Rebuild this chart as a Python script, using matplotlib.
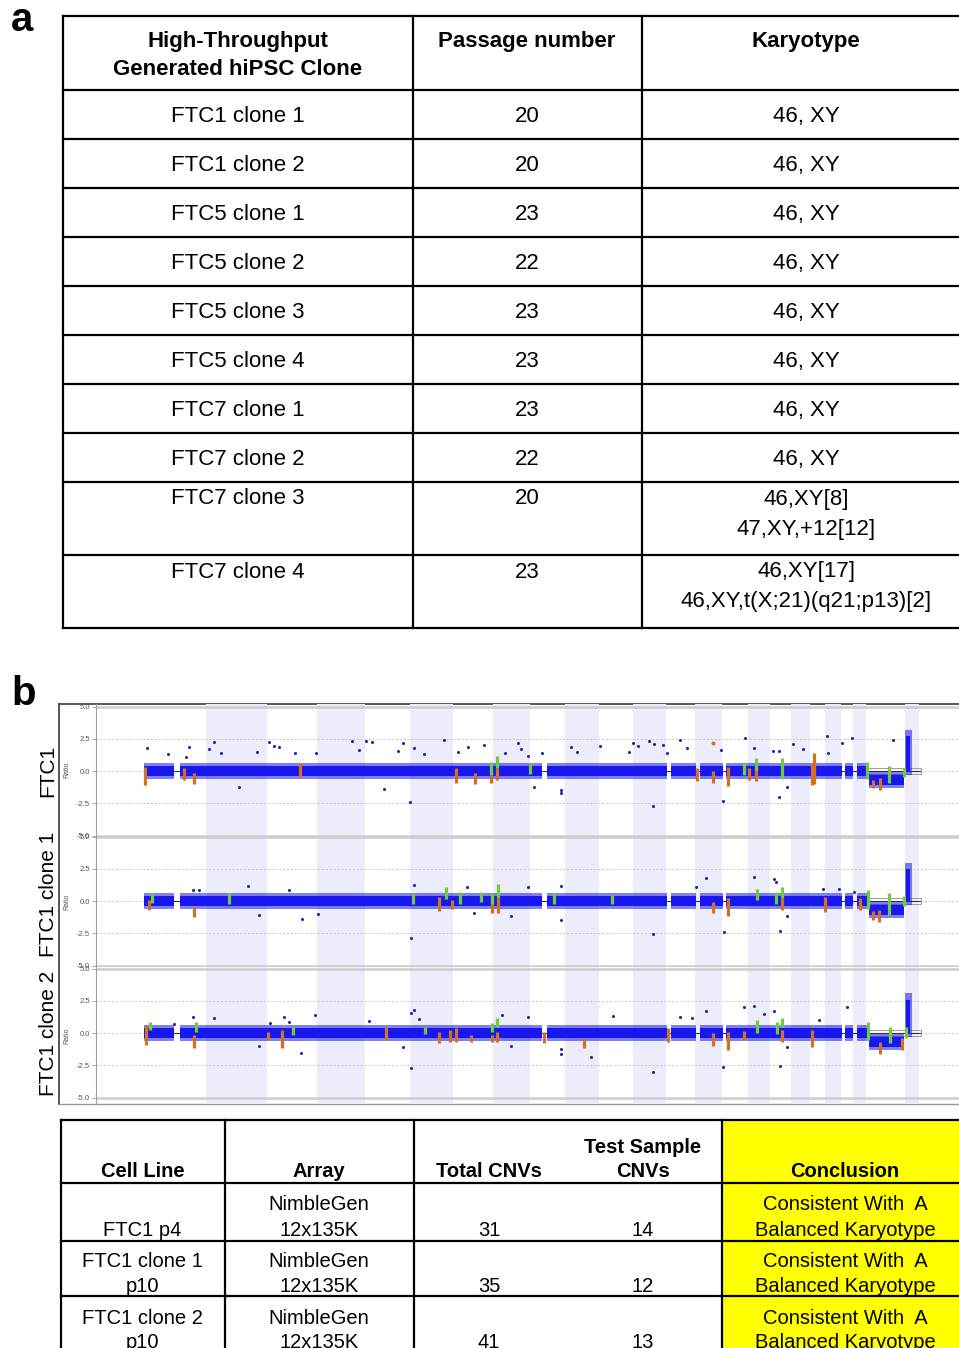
import matplotlib
matplotlib.use("Agg")
import matplotlib.pyplot as plt
import numpy as np

plt.rcParams['font.family'] = ['Liberation Sans', 'DejaVu Sans']

# ======================= DATA =======================
# ---- panel a table
header_a = [["High-Throughput", "Generated hiPSC Clone"], ["Passage number"], ["Karyotype"]]
clone_names = ["FTC1 clone 1", "FTC1 clone 2", "FTC5 clone 1", "FTC5 clone 2", "FTC5 clone 3",
               "FTC5 clone 4", "FTC7 clone 1", "FTC7 clone 2", "FTC7 clone 3", "FTC7 clone 4"]
passage_numbers = [20, 20, 23, 22, 23, 23, 23, 22, 20, 23]
karyotypes = [["46, XY"], ["46, XY"], ["46, XY"], ["46, XY"], ["46, XY"], ["46, XY"],
              ["46, XY"], ["46, XY"], ["46,XY[8]", "47,XY,+12[12]"],
              ["46,XY[17]", "46,XY,t(X;21)(q21;p13)[2]"]]

# ---- panel b: array CGH ratio plots
sample_labels = ["FTC1", "FTC1 clone 1", "FTC1 clone 2"]
chrom_names = [str(i) for i in range(1, 23)] + ["X", "Y"]
chrom_len_mb = [249, 243, 198, 191, 181, 171, 159, 146, 141, 136, 135, 134,
                115, 107, 103, 90, 81, 78, 59, 63, 48, 51, 155, 59]
ratio_ticks = [-5.0, -2.5, 0.0, 2.5, 5.0]
# dense probe cloud: (genome start Mb, genome end Mb, median log2 ratio)
probe_segments = [(0, 121, 0.0), (144, 1589, 0.0), (1606, 2086, 0.0), (2102, 2201, 0.0),
                  (2218, 2308, 0.0), (2322, 2786, 0.0), (2797, 2828, 0.0), (2844, 2892, 0.0),
                  (2892, 3032, -0.7)]
chrY_probe_range = (3034, 3064)
chrY_peak = [3.2, 2.97, 3.07]

# scattered outlier probes per sample (genome Mb, ratio)
outlier_mb = [
    [11, 94, 181, 168, 258, 280, 307, 380, 451, 500, 520, 540, 604, 686, 830, 856, 885, 908,
     958, 1012, 1032, 1062, 1078, 1118, 1198, 1254, 1291, 1358, 1438, 1491, 1502, 1530, 1557,
     1588, 1663, 1663, 1703, 1726, 1819, 1936, 1952, 1969, 2016, 2029, 2033, 2069, 2085, 2139,
     2166, 2302, 2311, 2398, 2435, 2510, 2534, 2534, 2565, 2590, 2627, 2723, 2727, 2783, 2823, 2987],
    [194, 221, 414, 460, 580, 629, 693, 1065, 1076, 1288, 1318, 1464, 1530, 1664, 1664, 2030,
     2202, 2240, 2313, 2433, 2511, 2519, 2538, 2566, 2710, 2772, 2834],
    [121, 194, 281, 460, 504, 557, 580, 626, 683, 899, 1032, 1065, 1065, 1078, 1098, 1427, 1464,
     1531, 1664, 1664, 1784, 1871, 2030, 2140, 2185, 2242, 2311, 2395, 2435, 2475, 2511, 2535,
     2566, 2694, 2804],
]
outlier_ratio = [
    [1.76, 1.32, 1.88, 1.1, 1.68, 2.22, 1.37, -1.26, 1.45, 2.22, 1.96, 1.83, 1.42, 1.37, 2.35,
     1.63, 2.35, 2.22, -1.40, 1.57, 2.19, -2.38, 1.76, 1.32, 2.40, 1.50, 1.88, 2.0, 1.42, 2.14,
     1.68, 1.16, -1.21, 1.37, -1.47, -1.68, 1.88, 1.45, 1.96, 1.50, 2.14, 1.94, 2.35, -2.71,
     2.09, 2.0, 1.37, 2.40, 1.81, 1.63, -2.33, 2.53, 1.76, 1.55, 1.55, -1.99, -1.21, 2.09, 1.71,
     2.71, 1.37, 2.14, 2.53, 2.40],
    [0.85, 0.85, 1.19, -1.08, 0.85, -1.42, -1.0, -2.89, 1.24, 1.11, -0.96, -1.16, 1.05, 1.16,
     -1.47, -2.58, 1.11, 1.76, -2.38, 1.83, 1.68, 1.45, -2.33, -1.16, 0.93, 0.93, 0.72],
    [0.67, 1.22, 1.14, -1.0, 0.8, 1.27, 0.88, -1.52, 1.4, 0.96, -1.06, -2.74, 1.58, 1.78, 1.06,
     1.4, -1.0, 1.22, -1.27, -1.63, -1.84, 1.32, -3.0, 1.22, 1.14, 1.73, -2.61, 1.99, 2.09, 1.47,
     1.73, -2.56, -1.06, 1.01, 1.99],
]

# CNV calls per sample: losses (orange) and gains (green): genome Mb, low ratio, high ratio
loss_mb = [
    [5, 158, 201, 624, 1245, 1321, 1385, 1408, 2206, 2270, 2330, 2414, 2442, 2666, 2672, 2909, 2937],
    [20, 200, 1177, 1229, 1389, 1412, 2270, 2330, 2546, 2717, 2857, 2909, 2933],
    [8, 201, 494, 551, 966, 1178, 1222, 1245, 1305, 1387, 1408, 1595, 1757, 2090, 2269, 2331,
     2395, 2546, 2664, 2937, 3023],
]
loss_lo = [
    [-1.09, -0.7, -1.0, -0.5, -0.9, -1.0, -0.95, -0.7, -0.8, -0.9, -1.2, -0.7, -0.8, -1.1, -1.0, -1.3, -1.5],
    [-0.7, -1.24, -0.8, -0.65, -0.95, -0.9, -0.95, -1.2, -0.7, -0.85, -0.7, -1.5, -1.6],
    [-0.93, -1.19, -0.55, -1.19, -0.55, -0.8, -0.7, -0.7, -0.7, -0.7, -0.7, -0.8, -1.19, -0.7,
     -1.0, -1.3, -0.55, -0.7, -1.06, -1.6, -1.3],
]
loss_hi = [
    [0.33, 0.2, -0.15, 0.6, 0.2, -0.15, -0.31, 0.21, 0.2, 0.0, 0.3, 0.2, 0.3, 0.6, 1.4, -0.7, -0.57],
    [0.08, -0.45, 0.3, 0.1, 0.45, 0.2, -0.05, 0.2, 0.2, 0.3, 0.2, -0.8, -0.7],
    [0.62, -0.15, 0.1, 0.23, 0.5, 0.1, 0.23, 0.35, -0.15, -0.15, 0.1, 0.1, -0.41, 0.36, 0.0,
     0.1, 0.18, 0.23, 0.23, -0.67, -0.4],
]
gain_mb = [
    [1385, 1408, 1540, 2394, 2442, 2546, 2885, 2973, 3032],
    [32, 339, 1073, 1205, 1261, 1345, 1389, 1412, 1636, 1867, 2446, 2522, 2546, 2889, 2973, 3032],
    [24, 207, 593, 1121, 1387, 1408, 2446, 2523, 2546, 2887, 2974, 3040],
]
gain_lo = [
    [-0.31, 0.21, -0.2, -0.3, 0.1, -0.6, -0.6, -0.93, -0.5],
    [-0.15, -0.2, -0.2, 0.15, -0.2, -0.1, -0.2, 0.2, -0.2, -0.2, 0.1, -0.2, 0.2, -0.6, -1.1, -0.4],
    [0.23, 0.1, -0.15, -0.1, 0.1, 0.5, 0.0, -0.1, 0.49, -0.54, -0.8, -0.4],
]
gain_hi = [
    [0.72, 1.16, 0.6, 0.6, 1.0, 1.03, 0.7, 0.4, 0.2],
    [0.6, 0.6, 0.6, 1.1, 0.7, 0.7, 0.6, 1.3, 0.6, 0.5, 0.9, 0.7, 1.1, 0.85, 0.6, 0.35],
    [0.88, 0.88, 0.5, 0.5, 0.75, 1.14, 1.0, 0.88, 1.14, 0.88, 0.5, 0.5],
]
loss_outlier = [[(2270, 2.14)], [], []]

# ---- panel b table
table_b_header = [["Cell Line"], ["Array"], ["Total CNVs"], ["Test Sample", "CNVs"], ["Conclusion"]]
cell_lines = [["FTC1 p4"], ["FTC1 clone 1", "p10"], ["FTC1 clone 2", "p10"]]
arrays = [["NimbleGen", "12x135K"]] * 3
total_cnvs = [31, 35, 41]
test_cnvs = [14, 12, 13]
conclusions = [["Consistent With  A", "Balanced Karyotype"]] * 3

# ======================= LAYOUT / STYLE =======================
W, H, DPI = 959, 1348, 100
fig = plt.figure(figsize=(W / DPI, H / DPI), dpi=DPI)
fig.patch.set_facecolor("white")
page = fig.add_axes([0, 0, 1, 1])
page.set_xlim(0, W)
page.set_ylim(H, 0)
page.axis("off")

LW = 1.6

def hline(y, x0, x1, **kw):
    page.plot([x0, x1], [y, y], color=kw.pop("color", "black"), lw=kw.pop("lw", LW),
              solid_capstyle="projecting", **kw)

def vline(x, y0, y1, **kw):
    page.plot([x, x], [y0, y1], color=kw.pop("color", "black"), lw=kw.pop("lw", LW),
              solid_capstyle="projecting", **kw)

# ---------------- panel a ----------------
page.text(22, 20, "a", fontsize=29, fontweight="bold", ha="center", va="center")
A_COLS = [63, 413, 642, 980]
A_ROWS = [16, 90, 139, 188, 237, 286, 335, 384, 433, 482, 555, 628]
A_CX = [238, 527, 806]
FS_A = 16
for y in A_ROWS:
    hline(y, A_COLS[0], A_COLS[-1])
for x in A_COLS[:-1]:
    vline(x, A_ROWS[0], A_ROWS[-1])

for j, lines in enumerate(header_a):
    for li, s in enumerate(lines):
        page.text(A_CX[j], A_ROWS[0] + 31.5 + 27.5 * li, s, fontsize=FS_A, fontweight="bold",
                  ha="center", va="baseline")

for i in range(len(clone_names)):
    top = A_ROWS[i + 1]
    kl = karyotypes[i]
    if len(kl) == 1:
        base = top + 31.7
        step = 0
    else:
        base = top + 22.5
        step = 30
    page.text(A_CX[0], base, clone_names[i], fontsize=FS_A, ha="center", va="baseline")
    page.text(A_CX[1], base, str(passage_numbers[i]), fontsize=FS_A, ha="center", va="baseline")
    for li, s in enumerate(kl):
        page.text(A_CX[2], base + step * li, s, fontsize=FS_A, ha="center", va="baseline")

# ---------------- panel b plots ----------------
page.text(24, 694, "b", fontsize=29, fontweight="bold", ha="center", va="center")
FR_L, FR_T, FR_B = 59, 704, 1104
hline(FR_T, FR_L, W + 5, color="#4a4a4a", lw=1.3)
vline(FR_L, FR_T, FR_B, color="#4a4a4a", lw=1.3)
hline(FR_B, FR_L, W + 5, color="#9a9a9a", lw=1.0)

PX_PER_MB = 0.2507
GENOME_X0 = 144
AX_L, AX_R = 96, 959
xlim = ((AX_L - GENOME_X0) / PX_PER_MB, (AX_R - GENOME_X0) / PX_PER_MB)
PX_PER_UNIT = 12.9
panel_px = [(704, 836.5, 771), (836.5, 967, 901), (967, 1104, 1033)]
label_cy = [771, 894, 1033]

chrom_start = np.concatenate([[0], np.cumsum(chrom_len_mb)])
PROBE = "#1818ee"
PROBE_DARK = "#2525b8"
LOSS = "#d5701f"
GAIN = "#72cc3a"
BAND_BG = "#ececfb"

for k in range(3):
    top, bot, zero = panel_px[k]
    ax = fig.add_axes([AX_L / W, 1 - bot / H, (AX_R - AX_L) / W, (bot - top) / H])
    ax.set_facecolor("none")
    ax.set_xlim(*xlim)
    ax.set_ylim(-(bot - zero) / PX_PER_UNIT, (zero - top) / PX_PER_UNIT)
    for i in range(len(chrom_len_mb)):
        if i % 2 == 1:
            ax.axvspan(chrom_start[i], chrom_start[i + 1], color=BAND_BG, lw=0, zorder=0)
    for yv in (-2.5, 0.0, 2.5):
        ax.axhline(yv, color="#c4c4c4", lw=0.7, ls=(0, (2, 2)), zorder=1)
    for yv in (-5.0, 5.0):
        ax.axhline(yv, color="#cdcdcd", lw=1.8, zorder=1)
    ax.hlines(0, 0, chrom_start[-1] + 8, color="#333333", lw=0.8, zorder=1.5)
    ax.add_patch(plt.Rectangle((2850, -0.22), chrom_start[-1] + 8 - 2850, 0.44, fill=False,
                               ec="#9a9a9a", lw=0.7, zorder=1.6))
    for (s, e, lvl) in probe_segments:
        ax.fill_between([s, e], lvl - 0.62, lvl + 0.62, color=PROBE, alpha=0.55, lw=0, zorder=2)
        ax.fill_between([s, e], lvl - 0.36, lvl + 0.36, color=PROBE, lw=0, zorder=2.1)
    ys, ye = chrY_probe_range
    ax.fill_between([ys, ye], -0.3, chrY_peak[k], color=PROBE, alpha=0.55, lw=0, zorder=2)
    ax.fill_between([ys + 5, ye - 8], -0.1, chrY_peak[k] - 0.5, color=PROBE, lw=0, zorder=2.1)
    ax.scatter(outlier_mb[k], outlier_ratio[k], s=5, c=PROBE_DARK, lw=0, zorder=3)
    ax.vlines(loss_mb[k], loss_lo[k], loss_hi[k], color=LOSS, lw=2.3, zorder=4)
    ax.vlines(gain_mb[k], gain_lo[k], gain_hi[k], color=GAIN, lw=2.3, zorder=4)
    if loss_outlier[k]:
        ox, oy = zip(*loss_outlier[k])
        ax.scatter(ox, oy, s=8, c=LOSS, lw=0, zorder=4)

    ax.set_yticks(ratio_ticks)
    ax.set_yticklabels([f"{t:.1f}" for t in ratio_ticks])
    ax.tick_params(axis="y", labelsize=5.5, labelcolor="#555555", color="#9a9a9a",
                   length=3, width=0.6, pad=1.5)
    ax.set_xticks([])
    for sp in ("top", "right", "bottom"):
        ax.spines[sp].set_visible(False)
    ax.spines["left"].set_color("#a0a0a0")
    ax.spines["left"].set_linewidth(0.8)
    ax.set_ylabel("Ratio", fontsize=5, color="#555555")
    ax.yaxis.set_label_coords((70 - AX_L) / (AX_R - AX_L), 0.5)
    fig.text(48 / W, 1 - label_cy[k] / H, sample_labels[k], rotation=90, fontsize=15,
             ha="center", va="center")

# ---------------- panel b table ----------------
B_COLS = [60.5, 224.5, 413.5, 721.5, 980]
B_ROWS = [1120, 1183, 1240.5, 1296, 1370]
B_CX = [142.5, 319, 489, 643, 845]
FS_B = 14.5
page.add_patch(plt.Rectangle((B_COLS[3], B_ROWS[0]), B_COLS[4] - B_COLS[3],
                             B_ROWS[-1] - B_ROWS[0], color="#ffff00", lw=0, zorder=0.5))
for y in B_ROWS[:-1]:
    hline(y, B_COLS[0], B_COLS[-1])
for x in B_COLS[:-1]:
    vline(x, B_ROWS[0], B_ROWS[-1])

def cell_lines_bottom(cx, baselines, lines, **kw):
    n = len(lines)
    for li, s in enumerate(lines):
        page.text(cx, baselines[len(baselines) - n + li], s, fontsize=FS_B,
                  ha="center", va="baseline", **kw)

for j in range(5):
    cell_lines_bottom(B_CX[j], [1153, 1177], table_b_header[j], fontweight="bold")
row_base = [(1210.5, 1235.5), (1267, 1291.5), (1323.5, 1348.5)]
for i in range(3):
    b = row_base[i]
    cell_lines_bottom(B_CX[0], b, cell_lines[i])
    cell_lines_bottom(B_CX[1], b, arrays[i])
    cell_lines_bottom(B_CX[2], b, [str(total_cnvs[i])])
    cell_lines_bottom(B_CX[3], b, [str(test_cnvs[i])])
    cell_lines_bottom(B_CX[4], b, conclusions[i])

fig.savefig("out.png", dpi=DPI, facecolor="white")
